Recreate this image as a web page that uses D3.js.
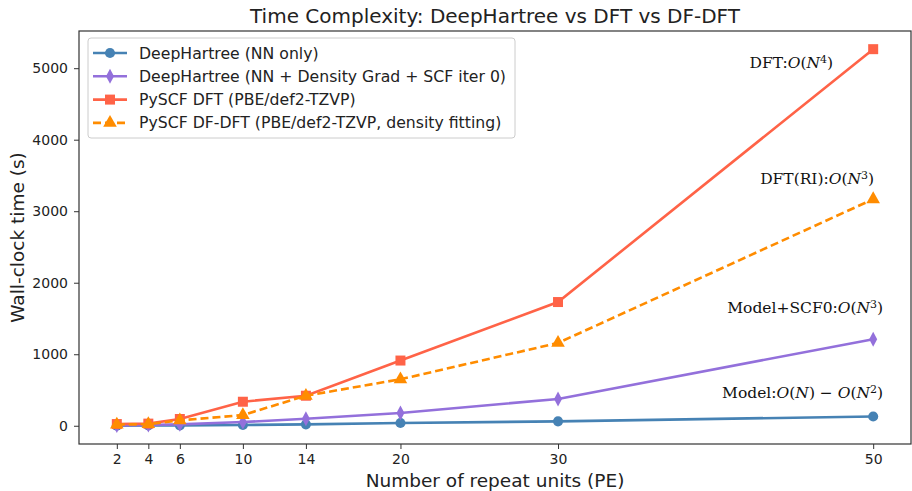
<!DOCTYPE html>
<html>
<head>
<meta charset="utf-8">
<script src="https://cdn.jsdelivr.net/npm/d3@7"></script>
<style>
  html, body { margin: 0; padding: 0; background: #fff; }
  svg { display: block; font-family: 'DejaVu Sans', sans-serif; }
</style>
</head>
<body>
<svg id="chart" width="912" height="491"></svg>
<script>
const UNITS = [2, 4, 6, 10, 14, 20, 30, 50];
const NN_ONLY = [2, 4, 6, 10, 20, 38, 62, 130];
const NN_SCF0 = [5, 10, 20, 52, 98, 178, 375, 1210];
const DFT = [24, 30, 95, 336, 420, 912, 1730, 5266];
const DF_DFT = [15, 22, 75, 150, 420, 650, 1158, 3168];
const Y_TICKS = [0, 1000, 2000, 3000, 4000, 5000];

const SERIES = [
  { name: 'DeepHartree (NN only)', values: NN_ONLY, color: '#4682b4', marker: 'circle', dash: null },
  { name: 'DeepHartree (NN + Density Grad + SCF iter 0)', values: NN_SCF0, color: '#9370db', marker: 'diamond', dash: null },
  { name: 'PySCF DFT (PBE/def2-TZVP)', values: DFT, color: '#ff6347', marker: 'square', dash: null },
  { name: 'PySCF DF-DFT (PBE/def2-TZVP, density fitting)', values: DF_DFT, color: '#ff8c00', marker: 'triangle', dash: '8,4' }
];

// annotations: text pieces, 0 = roman, 1 = italic, 2 = superscript
const NOTES = [
  { s: 2, parts: [['DFT:', 0], ['O', 1], ['(', 0], ['N', 1], ['4', 2], [')', 0]], dy: 19, dx: -40 },
  { s: 3, parts: [['DFT(RI):', 0], ['O', 1], ['(', 0], ['N', 1], ['3', 2], [')', 0]], dy: -15, dx: 1 },
  { s: 1, parts: [['Model+SCF0:', 0], ['O', 1], ['(', 0], ['N', 1], ['3', 2], [')', 0]], dy: -26, dx: 10 },
  { s: 0, parts: [['Model:', 0], ['O', 1], ['(', 0], ['N', 1], [') \u2212 ', 0], ['O', 1], ['(', 0], ['N', 1], ['2', 2], [')', 0]], dy: -18, dx: 10 }
];

const svg = d3.select('#chart');
const m = { left: 79, right: 911, top: 31, bottom: 444 };

const x = d3.scaleLinear().domain([-0.4, 52.4]).range([m.left, m.right]);
const y = d3.scaleLinear().domain([-255, 5520]).range([m.bottom, m.top]);

// axes
const xAxis = svg.append('g')
  .attr('transform', `translate(0,${m.bottom})`)
  .call(d3.axisBottom(x).tickValues(UNITS).tickFormat(d3.format('d')).tickSizeOuter(0).tickSize(5).tickPadding(5));
const yAxis = svg.append('g')
  .attr('transform', `translate(${m.left},0)`)
  .call(d3.axisLeft(y).tickValues(Y_TICKS).tickFormat(d3.format('d')).tickSizeOuter(0).tickSize(5).tickPadding(6));
[xAxis, yAxis].forEach(a => {
  a.select('.domain').remove();
  a.selectAll('line').attr('stroke', '#333');
  a.selectAll('text').attr('font-size', 14).attr('fill', '#222').attr('font-family', 'DejaVu Sans');
});

// frame
svg.append('rect')
  .attr('x', m.left).attr('y', m.top)
  .attr('width', m.right - m.left).attr('height', m.bottom - m.top)
  .attr('fill', 'none').attr('stroke', '#333').attr('stroke-width', 1.2);

// labels
svg.append('text').attr('x', (m.left + m.right) / 2).attr('y', 23)
  .attr('text-anchor', 'middle').attr('font-size', 20).attr('fill', '#222')
  .text('Time Complexity: DeepHartree vs DFT vs DF-DFT');
svg.append('text').attr('x', (m.left + m.right) / 2).attr('y', 487)
  .attr('text-anchor', 'middle').attr('font-size', 18.5).attr('fill', '#222')
  .text('Number of repeat units (PE)');
svg.append('text').attr('transform', `translate(24,${(m.top + m.bottom) / 2}) rotate(-90)`)
  .attr('text-anchor', 'middle').attr('font-size', 18.5).attr('fill', '#222')
  .text('Wall-clock time (s)');

const markerPath = {
  circle: d3.symbol(d3.symbolCircle, 80)(),
  square: d3.symbol(d3.symbolSquare, 100)(),
  triangle: d3.symbol(d3.symbolTriangle, 80)(),
  diamond: 'M0,-7.5L4,0L0,7.5L-4,0Z'
};

const line = d3.line().x(d => x(d[0])).y(d => y(d[1]));
const plot = svg.append('g');

SERIES.forEach(s => {
  const pts = UNITS.map((u, i) => [u, s.values[i]]);
  plot.append('path').datum(pts)
    .attr('d', line).attr('fill', 'none')
    .attr('stroke', s.color).attr('stroke-width', 2.6)
    .attr('stroke-dasharray', s.dash);
  plot.selectAll(null).data(pts).enter().append('path')
    .attr('d', markerPath[s.marker])
    .attr('transform', d => `translate(${x(d[0])},${y(d[1])})`)
    .attr('fill', s.color);
});

// annotations
NOTES.forEach(n => {
  const s = SERIES[n.s];
  const last = s.values.length - 1;
  const t = svg.append('text')
    .attr('x', x(UNITS[last]) + n.dx).attr('y', y(s.values[last]) + n.dy)
    .attr('text-anchor', 'end')
    .attr('font-family', 'DejaVu Serif, serif').attr('font-size', 15.5).attr('fill', '#111');
  n.parts.forEach(([str, kind]) => {
    const ts = t.append('tspan').text(str);
    if (kind === 1) ts.attr('font-style', 'italic');
    if (kind === 2) ts.attr('font-size', 11).attr('baseline-shift', '45%');
  });
});

// legend
const lg = svg.append('g').attr('transform', 'translate(88,38)');
lg.append('rect').attr('width', 427).attr('height', 100).attr('rx', 3)
  .attr('fill', '#fff').attr('fill-opacity', 0.85).attr('stroke', '#ccc');
SERIES.forEach((s, i) => {
  const row = lg.append('g').attr('transform', `translate(0,${15 + i * 23.3})`);
  row.append('line').attr('x1', 5).attr('x2', 39)
    .attr('stroke', s.color).attr('stroke-width', 2.6).attr('stroke-dasharray', s.dash);
  row.append('path').attr('d', markerPath[s.marker]).attr('transform', 'translate(22,0)').attr('fill', s.color);
  row.append('text').attr('x', 51).attr('y', 5.5).attr('font-size', 15.7).attr('fill', '#222').text(s.name);
});
</script>
</body>
</html>
